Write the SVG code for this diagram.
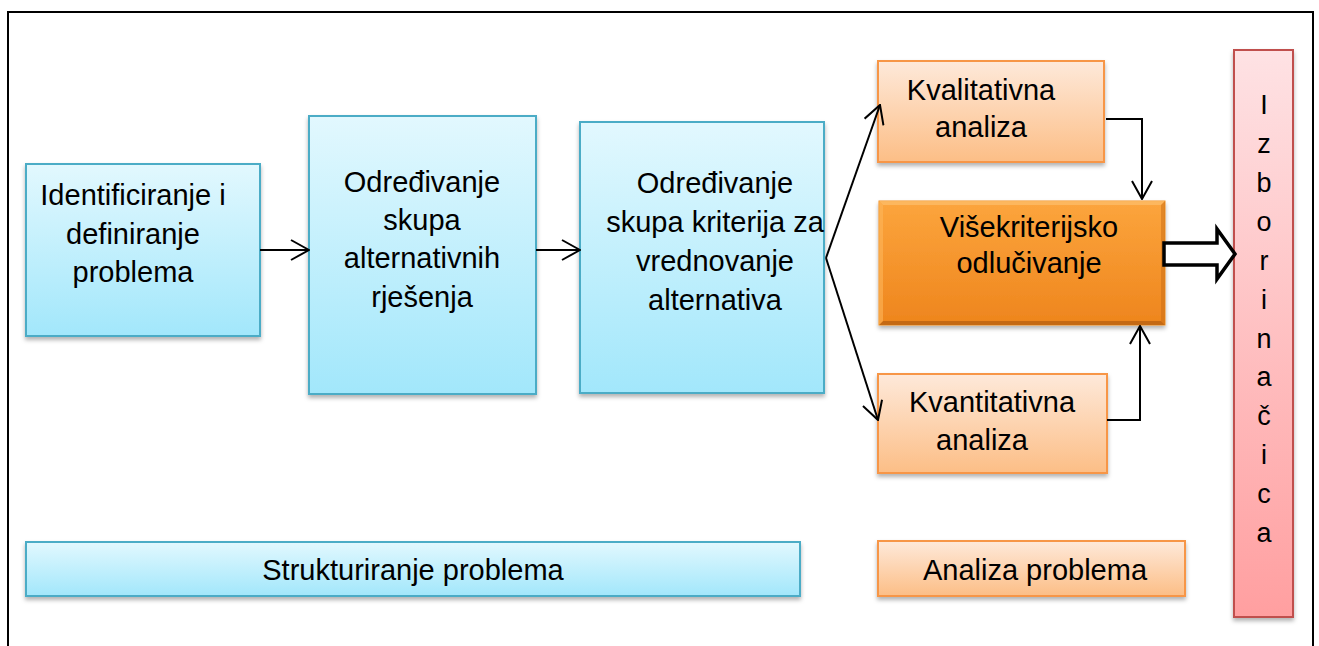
<svg xmlns="http://www.w3.org/2000/svg" width="1319" height="646" viewBox="0 0 1319 646">
<defs>
<linearGradient id="gBlue" x1="0" y1="0" x2="0" y2="1"><stop offset="0" stop-color="#e2f8fe"/><stop offset="1" stop-color="#a2e7fb"/></linearGradient>
<linearGradient id="gOrL" x1="0" y1="0" x2="0" y2="1"><stop offset="0" stop-color="#fee9da"/><stop offset="1" stop-color="#fcbe86"/></linearGradient>
<linearGradient id="gOr" x1="0" y1="0" x2="0" y2="1"><stop offset="0" stop-color="#fca53d"/><stop offset="1" stop-color="#ee851d"/></linearGradient>
<linearGradient id="gRed" x1="0" y1="0" x2="0" y2="1"><stop offset="0" stop-color="#fee2e4"/><stop offset="1" stop-color="#ff9fa0"/></linearGradient>
<filter id="sh" x="-10%" y="-10%" width="120%" height="130%"><feDropShadow dx="0" dy="3" stdDeviation="2" flood-color="#000" flood-opacity="0.3"/></filter>
<marker id="ah" viewBox="0 0 20 22" refX="19" refY="11" markerWidth="20" markerHeight="22" markerUnits="userSpaceOnUse" orient="auto"><path d="M1,1 L19,11 L1,21" fill="none" stroke="#000" stroke-width="2"/></marker>
</defs>
<style>
.t{font-family:"Liberation Sans",Arial,sans-serif;font-size:29px;fill:#000;text-anchor:middle}
.l{font-family:"Liberation Sans",Arial,sans-serif;font-size:27px;fill:#000;text-anchor:middle}
.blue{fill:url(#gBlue);stroke:#4bacc6;stroke-width:2;filter:url(#sh)}
.orl{fill:url(#gOrL);stroke:#f79646;stroke-width:2;filter:url(#sh)}
.c{fill:none;stroke:#000;stroke-width:2}
</style>
<rect width="1319" height="646" fill="#fff"/>
<path d="M8,646 V12 H1313 V646" fill="none" stroke="#000" stroke-width="2"/>

<g id="identificiranje">
<rect class="blue" x="26" y="164" width="234" height="172"/>
<text class="t" x="133" y="205">Identificiranje i</text>
<text class="t" x="133" y="244">definiranje</text>
<text class="t" x="133" y="282">problema</text>
</g>
<g id="alternative">
<rect class="blue" x="309" y="116" width="227" height="278"/>
<text class="t" x="422" y="192">Određivanje</text>
<text class="t" x="422" y="230">skupa</text>
<text class="t" x="422" y="268">alternativnih</text>
<text class="t" x="422" y="307">rješenja</text>
</g>
<g id="kriteriji">
<rect class="blue" x="580" y="122" width="244" height="271"/>
<text class="t" x="715" y="193">Određivanje</text>
<text class="t" x="715" y="232">skupa kriterija za</text>
<text class="t" x="715" y="271">vrednovanje</text>
<text class="t" x="715" y="310">alternativa</text>
</g>
<g id="kvalitativna">
<rect class="orl" x="878" y="61" width="226" height="101"/>
<text class="t" x="981" y="100">Kvalitativna</text>
<text class="t" x="981" y="137">analiza</text>
</g>
<g id="visekriterijsko">
<rect x="879" y="201" width="286" height="124" fill="url(#gOr)" stroke="#f0901e" stroke-width="1" filter="url(#sh)"/>
<path d="M879,201 H1165 L1161,205 H883 Z" fill="#fdbb66" opacity="0.8"/>
<path d="M879,325 H1165 L1161,321 H883 Z" fill="#a8560f" opacity="0.6"/>
<path d="M1165,201 V325 L1161,321 V205 Z" fill="#c86c14" opacity="0.5"/>
<path d="M879,201 V325 L883,321 V205 Z" fill="#fdb55a" opacity="0.6"/>
<text class="t" x="1029" y="237">Višekriterijsko</text>
<text class="t" x="1029" y="273">odlučivanje</text>
</g>
<g id="kvantitativna">
<rect class="orl" x="878" y="374" width="229" height="99"/>
<text class="t" x="992" y="412">Kvantitativna</text>
<text class="t" x="982" y="450">analiza</text>
</g>
<g id="izbor">
<rect x="1234" y="50" width="59" height="567" fill="url(#gRed)" stroke="#c0504d" stroke-width="2" filter="url(#sh)"/>
<text class="l" x="1264" y="114">I</text>
<text class="l" x="1264" y="153">z</text>
<text class="l" x="1264" y="192">b</text>
<text class="l" x="1264" y="231">o</text>
<text class="l" x="1264" y="270">r</text>
<text class="l" x="1264" y="309">i</text>
<text class="l" x="1264" y="348">n</text>
<text class="l" x="1264" y="386">a</text>
<text class="l" x="1264" y="425">č</text>
<text class="l" x="1264" y="464">i</text>
<text class="l" x="1264" y="503">c</text>
<text class="l" x="1264" y="542">a</text>
</g>
<g id="strukturiranje">
<rect class="blue" x="26" y="542" width="774" height="54"/>
<text class="t" x="413" y="580">Strukturiranje problema</text>
</g>
<g id="analiza">
<rect class="orl" x="878" y="541" width="307" height="55"/>
<text class="t" x="1035" y="580">Analiza problema</text>
</g>

<g id="connectors">
<line class="c" x1="260" y1="250" x2="309" y2="250" marker-end="url(#ah)"/>
<line class="c" x1="536" y1="250" x2="580" y2="250" marker-end="url(#ah)"/>
<path class="c" d="M826,258 L880,105" marker-end="url(#ah)"/>
<path class="c" d="M826,258 L878,420" marker-end="url(#ah)"/>
<path class="c" d="M1106,119 H1142 V199" marker-end="url(#ah)"/>
<path class="c" d="M1107,420 H1140 V326" marker-end="url(#ah)"/>
<polygon points="1164,243 1217,243 1217,229 1235,254 1217,279 1217,265 1164,265" fill="#fff" stroke="#000" stroke-width="3.5" stroke-linejoin="miter"/>
</g>
</svg>
